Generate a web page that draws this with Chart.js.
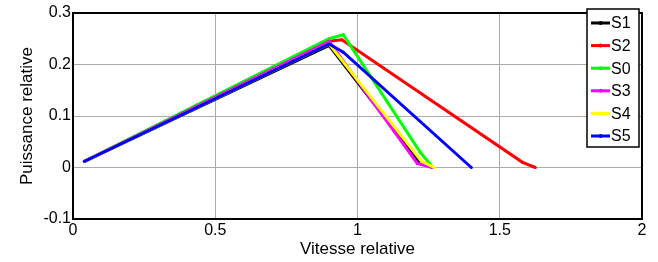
<!DOCTYPE html>
<html>
<head>
<meta charset="utf-8">
<script src="https://cdn.jsdelivr.net/npm/chart.js@4/dist/chart.umd.min.js"></script>
<style>
  html, body { margin: 0; padding: 0; background: #fff; }
  #wrap { width: 658px; height: 262px; }
</style>
</head>
<body>
<div id="wrap"><canvas id="c"></canvas></div>
<script>
  // series labels in plotting order
  const labels = ['S1', 'S2', 'S0', 'S3', 'S4', 'S5'];
  const colors = ['#000000', '#ff0000', '#00ff00', '#ff00ff', '#ffff00', '#0000ff'];

  // values (x = vitesse, y = puissance)
  const s1X = [0.04, 0.90, 1.22, 1.265];
  const s1Y = [0.012, 0.237, 0.008, 0.0];
  const s2X = [0.04, 0.90, 0.945, 1.58, 1.625];
  const s2Y = [0.012, 0.245, 0.248, 0.01, 0.0];
  const s0X = [0.04, 0.90, 0.95, 1.22, 1.265];
  const s0Y = [0.012, 0.25, 0.258, 0.03, 0.0];
  const s3X = [0.04, 0.90, 1.21, 1.265];
  const s3Y = [0.012, 0.245, 0.008, 0.0];
  const s4X = [0.04, 0.90, 1.225, 1.27];
  const s4Y = [0.012, 0.24, 0.012, 0.0];
  const s5X = [0.04, 0.90, 0.95, 1.40];
  const s5Y = [0.012, 0.24, 0.224, 0.0];

  const xTicks = [0, 0.5, 1, 1.5, 2];
  const yTicks = [-0.1, 0, 0.1, 0.2, 0.3];

  const xs = [s1X, s2X, s0X, s3X, s4X, s5X];
  const ys = [s1Y, s2Y, s0Y, s3Y, s4Y, s5Y];

  function toPoints(xArr, yArr) {
    return xArr.map((x, i) => ({ x, y: yArr[i] }));
  }

  // later series drawn on top (lower order = drawn last)
  const datasets = labels.map((lab, i) => ({
    label: lab,
    data: toPoints(xs[i], ys[i]),
    order: labels.length - i,
    borderColor: colors[i],
    backgroundColor: colors[i],
    borderWidth: 3,
    pointRadius: 1.5,
    pointHoverRadius: 1.5,
    pointBorderWidth: 0,
    tension: 0,
    fill: false
  }));

  // black box round the plot area + matlab style legend
  const frameAndLegend = {
    id: 'frameAndLegend',
    afterDraw(chart) {
      const ctx = chart.ctx;
      const a = chart.chartArea;
      ctx.save();
      ctx.strokeStyle = '#000';
      ctx.lineWidth = 2;
      ctx.strokeRect(a.left, a.top, a.right - a.left, a.bottom - a.top);

      const bx = a.right - 55, by = 9, bw = 52, bh = 138;
      ctx.fillStyle = '#fff';
      ctx.fillRect(bx, by, bw, bh);
      ctx.lineWidth = 1.5;
      ctx.strokeRect(bx, by, bw, bh);
      ctx.font = '16px "Liberation Sans", Arial, sans-serif';
      ctx.textBaseline = 'middle';
      ctx.textAlign = 'left';
      chart.data.datasets.forEach((ds, i) => {
        const y = by + 14 + i * 22.6;
        ctx.strokeStyle = ds.borderColor;
        ctx.lineWidth = 3;
        ctx.beginPath();
        ctx.moveTo(bx + 4, y);
        ctx.lineTo(bx + 23, y);
        ctx.stroke();
        ctx.fillStyle = ds.borderColor;
        ctx.beginPath();
        ctx.arc(bx + 13.5, y, 2, 0, Math.PI * 2);
        ctx.fill();
        ctx.fillStyle = '#000';
        ctx.fillText(ds.label, bx + 24, y + 1);
      });
      ctx.restore();
    }
  };

  const tickFont = { family: '"Liberation Sans", Arial, sans-serif', size: 16 };
  const titleFont = { family: '"Liberation Sans", Arial, sans-serif', size: 17 };

  new Chart(document.getElementById('c'), {
    type: 'line',
    data: { datasets },
    options: {
      responsive: true,
      maintainAspectRatio: false,
      animation: false,
      layout: { padding: { top: 13, right: 16, bottom: 0, left: 0 } },
      plugins: { legend: { display: false }, tooltip: { enabled: false } },
      scales: {
        x: {
          type: 'linear',
          min: 0, max: 2,
          afterBuildTicks: s => { s.ticks = xTicks.map(v => ({ value: v })); },
          afterFit: s => { s.height = 43; },
          ticks: { font: tickFont, color: '#000', padding: 2, maxRotation: 0,
                   callback: v => String(v) },
          grid: { color: '#aaaaaa', lineWidth: 1, drawTicks: false },
          border: { display: false },
          title: { display: true, text: 'Vitesse relative', font: titleFont, color: '#000',
                   padding: { top: 0, bottom: 2 } }
        },
        y: {
          type: 'linear',
          min: -0.1, max: 0.3,
          afterBuildTicks: s => { s.ticks = yTicks.map(v => ({ value: v })); },
          afterFit: s => { s.width = 73; },
          ticks: { font: tickFont, color: '#000', padding: 2,
                   callback: v => String(Math.round(v * 10) / 10) },
          grid: { color: '#aaaaaa', lineWidth: 1, drawTicks: false },
          border: { display: false },
          title: { display: true, text: 'Puissance relative', font: titleFont, color: '#000',
                   padding: { top: 17, bottom: 0 } }
        }
      }
    },
    plugins: [frameAndLegend]
  });
</script>
</body>
</html>
